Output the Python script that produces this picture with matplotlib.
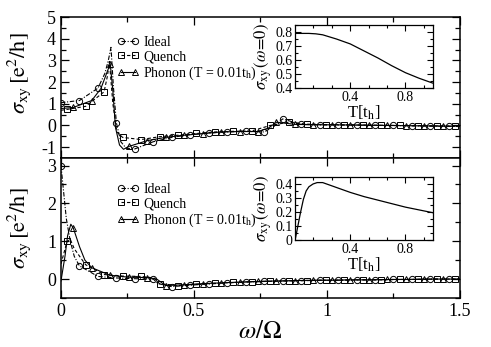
import numpy as np
import matplotlib
matplotlib.use("Agg")
import matplotlib.pyplot as plt
from matplotlib.lines import Line2D
from matplotlib.ticker import MultipleLocator, FixedLocator

plt.rcParams['font.family'] = ['Liberation Serif', 'DejaVu Serif']
plt.rcParams['mathtext.fontset'] = 'stix'
plt.rcParams['axes.unicode_minus'] = False

# ---------------- data ----------------
labels = ["Ideal", "Quench", "Phonon (T = 0.01t$_{\\rm h}$)"]

# top panel
x_ideal_top = [0.0, 0.0694, 0.1389, 0.165, 0.178, 0.188, 0.197, 0.2083, 0.225, 0.245, 0.2778, 0.3472, 0.4167, 0.4861,
               0.5556, 0.625, 0.6944, 0.7639, 0.80, 0.8333, 0.9028, 0.9722, 1.0417, 1.1111, 1.1806, 1.25, 1.3194,
               1.3889, 1.4583, 1.5]
y_ideal_top = [1.05, 1.15, 1.72, 2.4, 3.0, 3.6, 1.8, 0.12, -0.75, -1.05, -1.08, -0.75, -0.55, -0.42,
               -0.35, -0.3, -0.27, -0.3, -0.05, 0.3, 0.05, 0.03, 0.02, 0.02, 0.0, 0.0, -0.02,
               -0.03, -0.04, -0.05]

x_quench_top = [0.0, 0.0231, 0.0926, 0.1620, 0.175, 0.182, 0.195, 0.21, 0.2315, 0.3009, 0.3704, 0.4398, 0.5093,
                0.5787, 0.6481, 0.7176, 0.7870, 0.8565, 0.9259, 0.9954, 1.0648, 1.1343, 1.2037, 1.2731, 1.3426,
                1.4120, 1.4815, 1.5]
y_quench_top = [0.7, 0.74, 0.88, 1.55, 2.3, 2.95, 1.0, -0.3, -0.55, -0.65, -0.52, -0.45, -0.37,
                -0.3, -0.27, -0.25, 0.0, 0.15, 0.06, 0.04, 0.03, 0.02, 0.01, 0.0, -0.01,
                -0.02, -0.03, -0.03]

x_phonon_top = [0.0, 0.0463, 0.1157, 0.15, 0.1852, 0.195, 0.205, 0.22, 0.235, 0.2546, 0.3241, 0.3935, 0.4630,
                0.5324, 0.6019, 0.6713, 0.7407, 0.78, 0.8102, 0.8796, 0.9491, 1.0185, 1.0880, 1.1574, 1.2269,
                1.2963, 1.3657, 1.4352, 1.5]
y_phonon_top = [0.78, 0.83, 1.15, 1.7, 2.85, 1.6, -0.1, -0.9, -1.1, -0.97, -0.7, -0.55, -0.45,
                -0.38, -0.3, -0.28, -0.28, -0.12, 0.15, 0.05, 0.03, 0.03, 0.02, 0.01, 0.0,
                -0.01, -0.02, -0.03, -0.03]

# bottom panel
x_ideal_bot = [0.0, 0.01, 0.02, 0.035, 0.05, 0.0694, 0.1389, 0.2083, 0.2778, 0.3472, 0.365, 0.4167, 0.4861,
               0.5556, 0.625, 0.6944, 0.7639, 0.8333, 0.9028, 0.9722, 1.0417, 1.1111, 1.1806, 1.25, 1.3194,
               1.3889, 1.4583, 1.5]
y_ideal_bot = [3.0, 2.3, 1.6, 1.0, 0.6, 0.35, 0.07, 0.03, 0.01, 0.0, -0.12, -0.2, -0.16,
               -0.13, -0.1, -0.08, -0.06, -0.05, -0.04, -0.03, -0.03, -0.02, -0.02, -0.01, -0.01,
               0.0, 0.0, 0.0]

x_quench_bot = [0.0, 0.0231, 0.035, 0.05, 0.0926, 0.1620, 0.2315, 0.3009, 0.35, 0.3704, 0.4398, 0.5093,
                0.5787, 0.6481, 0.7176, 0.7870, 0.8565, 0.9259, 0.9954, 1.0648, 1.1343, 1.2037, 1.2731,
                1.3426, 1.4120, 1.4815, 1.5]
y_quench_bot = [0.4, 1.0, 1.05, 0.8, 0.38, 0.12, 0.08, 0.07, 0.03, -0.12, -0.17, -0.14,
                -0.11, -0.09, -0.07, -0.06, -0.05, -0.04, -0.03, -0.03, -0.02, -0.02, -0.01,
                -0.01, 0.0, 0.0, 0.0]

x_phonon_bot = [0.0, 0.015, 0.025, 0.037, 0.0463, 0.07, 0.09, 0.1157, 0.1852, 0.2546, 0.3241, 0.36, 0.3935,
                0.4630, 0.5324, 0.6019, 0.6713, 0.7407, 0.8102, 0.8796, 0.9491, 1.0185, 1.0880, 1.1574,
                1.2269, 1.2963, 1.3657, 1.4352, 1.5]
y_phonon_bot = [-0.05, 0.6, 1.15, 1.45, 1.35, 0.85, 0.5, 0.3, 0.1, 0.05, 0.04, 0.0, -0.17,
                -0.15, -0.12, -0.1, -0.08, -0.06, -0.05, -0.04, -0.03, -0.03, -0.02, -0.02,
                -0.01, -0.01, 0.0, 0.0, 0.0]

# insets: sigma_xy(omega=0) vs T
T_top = [0.0, 0.05, 0.1, 0.15, 0.2, 0.3, 0.4, 0.5, 0.6, 0.7, 0.8, 0.9, 1.0]
s_top = [0.79, 0.79, 0.79, 0.787, 0.78, 0.75, 0.715, 0.665, 0.615, 0.56, 0.51, 0.47, 0.435]
T_bot = [0.0, 0.02, 0.04, 0.06, 0.08, 0.1, 0.13, 0.16, 0.2, 0.3, 0.4, 0.5, 0.6, 0.7, 0.8, 0.9, 1.0]
s_bot = [0.0, 0.1, 0.2, 0.29, 0.35, 0.38, 0.40, 0.41, 0.41, 0.375, 0.34, 0.31, 0.285, 0.26, 0.235, 0.215, 0.195]

# ---------------- style ----------------
STEP = 5 / 72
styles = [
    dict(ls=(0, (4, 1.5, 1, 1.5)), marker='o', off=0.0),
    dict(ls=(0, (3, 2)), marker='s', off=STEP / 3),
    dict(ls='-', marker='^', off=2 * STEP / 3),
]
LW = 0.8
MS = 4.5
MEW = 0.7


def marks(x, off):
    k = (np.asarray(x) - off) / STEP
    return (np.abs(k - np.round(k)) < 0.01) & (k > -0.01)


fig = plt.figure(figsize=(4.91, 3.47), dpi=100)
ax_top = fig.add_axes([0.1242, 0.5447, 0.8126, 0.4063])
ax_bot = fig.add_axes([0.1242, 0.1412, 0.8126, 0.4035])

top_series = [(x_ideal_top, y_ideal_top), (x_quench_top, y_quench_top), (x_phonon_top, y_phonon_top)]
bot_series = [(x_ideal_bot, y_ideal_bot), (x_quench_bot, y_quench_bot), (x_phonon_bot, y_phonon_bot)]

for ax, series in ((ax_top, top_series), (ax_bot, bot_series)):
    for (xs, ys), st in zip(series, styles):
        ax.plot(xs, ys, color='k', lw=LW, ls=st['ls'], marker=st['marker'], ms=MS, mew=MEW,
                mfc='none', mec='k', markevery=list(np.where(marks(xs, st['off']))[0]), clip_on=True)
    handles = [Line2D([], [], color='k', lw=LW, ls=st['ls'], marker=st['marker'], ms=MS, mew=MEW,
                      mfc='none', mec='k') for st in styles]
    ax.set_xlim(0, 1.5)
    ax.xaxis.set_major_locator(MultipleLocator(0.5))
    ax.xaxis.set_minor_locator(MultipleLocator(0.25))
    ax.yaxis.set_major_locator(MultipleLocator(1))
    ax.yaxis.set_minor_locator(MultipleLocator(0.5))
    ax.tick_params(which='both', direction='in', top=True, right=True, labelsize=13)
    ax.tick_params(which='major', length=6, width=0.9)
    ax.tick_params(which='minor', length=3.5, width=0.9)
    for sp in ax.spines.values():
        sp.set_linewidth(1.1)
    ax.set_ylabel(r'$\sigma_{\rm xy}\,[\mathrm{e}^2/\mathrm{h}]$', fontsize=16)

ax_top.set_ylim(-1.5, 5)
ax_bot.set_ylim(-0.5, 3.2)
ax_top.tick_params(labelbottom=False)
ax_bot.set_xticks([0, 0.5, 1, 1.5])
ax_bot.set_xticklabels(['0', '0.5', '1', '1.5'])
ax_bot.set_xlabel(r'$\omega/\Omega$', fontsize=18, labelpad=1)
ax_top.yaxis.set_label_coords(-0.07, 0.6)
ax_bot.yaxis.set_label_coords(-0.07, 0.5)

ax_top.legend(handles, labels, loc='upper left', bbox_to_anchor=(0.14, 0.865), frameon=False,
              fontsize=10, numpoints=2, handlelength=1.6, handletextpad=0.3, labelspacing=0.08,
              borderpad=0, borderaxespad=0)
ax_bot.legend(handles, labels, loc='upper left', bbox_to_anchor=(0.14, 0.82), frameon=False,
              fontsize=10, numpoints=2, handlelength=1.6, handletextpad=0.3, labelspacing=0.08,
              borderpad=0, borderaxespad=0)

# insets
in_top = fig.add_axes([0.601, 0.746, 0.281, 0.182])
in_bot = fig.add_axes([0.601, 0.308, 0.281, 0.182])
for ax, T, s, ylim, ymaj in ((in_top, T_top, s_top, (0.4, 0.85), 0.1), (in_bot, T_bot, s_bot, (0, 0.45), 0.1)):
    ax.plot(T, s, color='k', lw=0.9)
    ax.set_xlim(0, 1.0)
    ax.set_ylim(*ylim)
    ax.xaxis.set_major_locator(FixedLocator([0.4, 0.8]))
    ax.xaxis.set_minor_locator(FixedLocator([0.4 / 3, 0.8 / 3, 0.4 + 0.4 / 3, 0.4 + 0.8 / 3, 0.8 + 0.4 / 3]))
    ax.yaxis.set_major_locator(MultipleLocator(ymaj))
    ax.yaxis.set_minor_locator(MultipleLocator(ymaj / 2))
    ax.tick_params(which='both', direction='in', top=True, right=True, labelsize=10, pad=2)
    ax.tick_params(which='major', length=4, width=0.8)
    ax.tick_params(which='minor', length=2.5, width=0.8)
    for sp in ax.spines.values():
        sp.set_linewidth(0.9)
    ax.set_xlabel(r'T[t$_{\rm h}$]', fontsize=12, labelpad=0)
    ax.set_ylabel(r'$\sigma_{\rm xy}\,(\omega\!=\!0)$', fontsize=12, labelpad=1)

in_top.set_yticks([0.4, 0.5, 0.6, 0.7, 0.8])
in_top.set_yticklabels(['0.4', '0.5', '0.6', '0.7', '0.8'])
in_bot.set_yticks([0, 0.1, 0.2, 0.3, 0.4])
in_bot.set_yticklabels(['0', '0.1', '0.2', '0.3', '0.4'])

fig.savefig('out.png', dpi=100)
